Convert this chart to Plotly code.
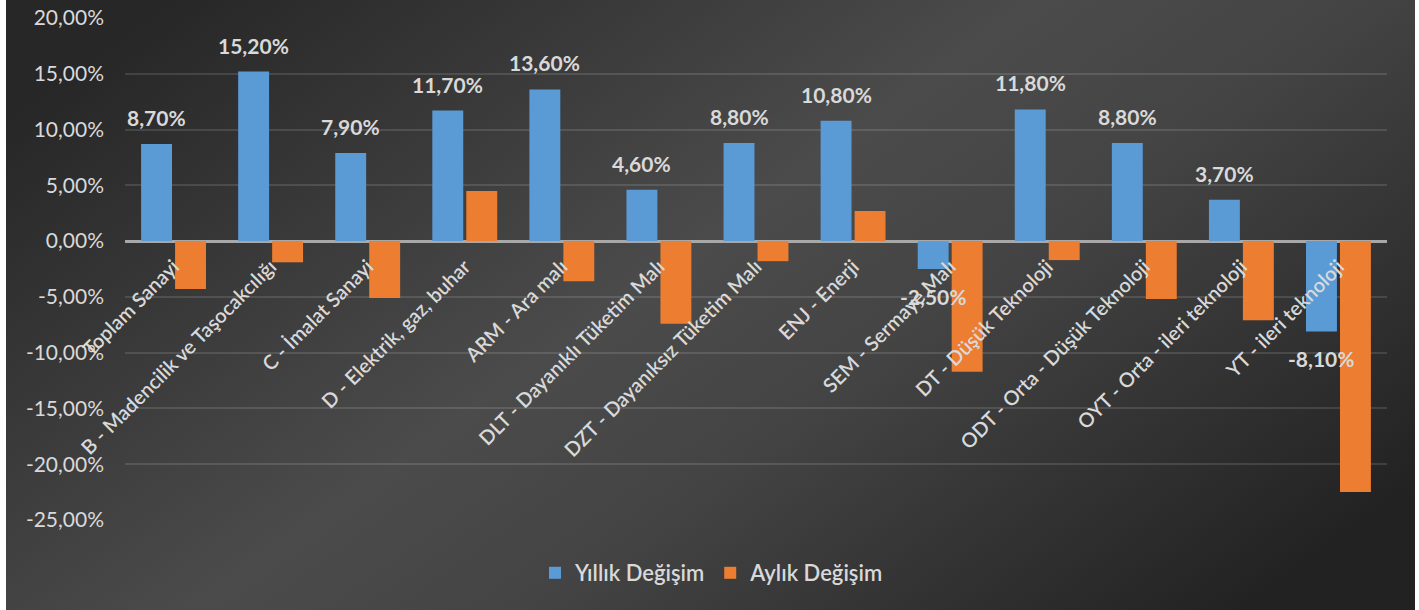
import plotly.graph_objects as go

categories = [
    "Toplam Sanayi",
    "B - Madencilik ve Taşocakcılığı",
    "C - İmalat Sanayi",
    "D - Elektrik, gaz, buhar",
    "ARM - Ara malı",
    "DLT - Dayanıklı Tüketim Malı",
    "DZT - Dayanıksız Tüketim Malı",
    "ENJ - Enerji",
    "SEM - Sermaye Malı",
    "DT - Düşük Teknoloji",
    "ODT - Orta - Düşük Teknoloji",
    "OYT - Orta - ileri teknoloji",
    "YT - ileri teknoloji",
]
yillik = [8.7, 15.2, 7.9, 11.7, 13.6, 4.6, 8.8, 10.8, -2.5, 11.8, 8.8, 3.7, -8.1]
aylik = [-4.3, -1.9, -5.1, 4.5, -3.6, -7.4, -1.8, 2.7, -11.7, -1.7, -5.2, -7.1, -22.5]
series_names = ["Yıllık Değişim", "Aylık Değişim"]
y_ticks = [20, 15, 10, 5, 0, -5, -10, -15, -20, -25]
y_ticktext = ["20,00%", "15,00%", "10,00%", "5,00%", "0,00%", "-5,00%",
              "-10,00%", "-15,00%", "-20,00%", "-25,00%"]
yillik_labels = ["8,70%", "15,20%", "7,90%", "11,70%", "13,60%", "4,60%", "8,80%",
                 "10,80%", "-2,50%", "11,80%", "8,80%", "3,70%", "-8,10%"]

W, H = 1419, 610
ML, MR, MT, MB = 125, 32, 18, 90
PW, PH = W - ML - MR, H - MT - MB
YMIN, YMAX = -25, 20
BARGAP, BARGROUPGAP = 0.30, 0.09

TXT = "#d9d9d9"
FONT = "Lato, 'Open Sans', sans-serif"

# background gradient (Excel dark style)
svg = (
    "<svg xmlns='http://www.w3.org/2000/svg' width='100' height='100' preserveAspectRatio='none'>"
    "<defs><linearGradient id='g' x1='0' y1='0.2' x2='1' y2='0.8'>"
    "<stop offset='0' stop-color='%23272727'/>"
    "<stop offset='0.45' stop-color='%234b4b4b'/>"
    "<stop offset='0.62' stop-color='%23444444'/>"
    "<stop offset='1' stop-color='%23222222'/>"
    "</linearGradient></defs>"
    "<rect width='100' height='100' fill='url(%23g)'/></svg>"
)
bg_src = "data:image/svg+xml;utf8," + svg.replace("<", "%3C").replace(">", "%3E")

fig = go.Figure()
fig.add_trace(go.Bar(
    x=categories, y=yillik, name=series_names[0],
    marker=dict(color="#5B9BD5", line=dict(width=0)),
    hoverinfo="x+y",
))
fig.add_trace(go.Bar(
    x=categories, y=aylik, name=series_names[1],
    marker=dict(color="#ED7D31", line=dict(width=0)),
    hoverinfo="x+y",
))

# value labels for the yearly series (drawn above all bars)
blue_shift = -(1 - BARGAP) * PW / len(categories) / 4
annotations = []
for cat, v, lab in zip(categories, yillik, yillik_labels):
    annotations.append(dict(
        x=cat, y=v, xref="x", yref="y", text=lab, showarrow=False,
        xshift=blue_shift, yshift=12 if v >= 0 else -13,
        yanchor="bottom" if v >= 0 else "top", xanchor="center",
        font=dict(family=FONT, size=21, color=TXT, weight="bold"),
    ))

fig.update_layout(
    width=W, height=H,
    margin=dict(l=ML, r=MR, t=MT, b=MB, autoexpand=False),
    paper_bgcolor="white",
    plot_bgcolor="rgba(0,0,0,0)",
    separators=",.",
    barmode="group", bargap=BARGAP, bargroupgap=BARGROUPGAP,
    font=dict(family=FONT, color=TXT),
    showlegend=True,
    annotations=annotations,
    legend=dict(
        orientation="h", x=(712 - ML) / PW, xanchor="center",
        y=(H - MB - 573) / PH, yanchor="middle",
        font=dict(family=FONT, size=22, color=TXT, weight=600),
        bgcolor="rgba(0,0,0,0)", itemwidth=30, tracegroupgap=0,
    ),
    images=[dict(
        source=bg_src, xref="paper", yref="paper",
        x=(6 - ML) / PW, y=(H - MB) / PH, sizex=(1415 - 6) / PW, sizey=H / PH,
        xanchor="left", yanchor="top", sizing="stretch", layer="below",
    )],
    yaxis=dict(
        range=[YMIN, YMAX], tickvals=y_ticks, ticktext=y_ticktext,
        showgrid=True, gridcolor="rgba(255,255,255,0.12)", gridwidth=1.5,
        zeroline=True, zerolinecolor="#a8a8a8", zerolinewidth=2.5,
        tickfont=dict(family=FONT, size=21, color=TXT),
        ticks="", ticklabelstandoff=20, showline=False, fixedrange=True,
    ),
    xaxis=dict(
        type="category", anchor="free", position=(0 - YMIN) / (YMAX - YMIN),
        tickangle=-45, ticks="", showline=False, showgrid=False, zeroline=False,
        tickfont=dict(family=FONT, size=20, color=TXT, weight=600),
        ticklabelstandoff=9, automargin=False, fixedrange=True,
    ),
)

fig.write_html("out.html", config={"displayModeBar": False},
               post_script="document.body.style.margin='0';")
